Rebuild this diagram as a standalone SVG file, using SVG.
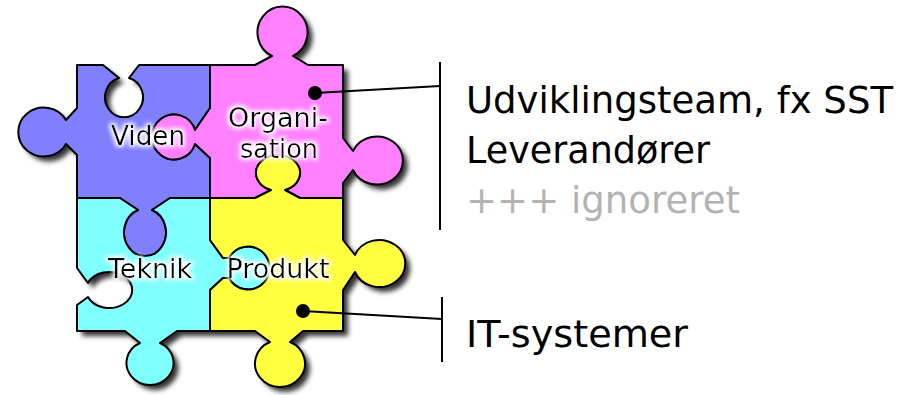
<svg xmlns="http://www.w3.org/2000/svg" xmlns:xlink="http://www.w3.org/1999/xlink" width="908" height="395" viewBox="0 0 908 395">
<style>
.piece{stroke:#000;stroke-width:2;stroke-linejoin:round}
.lbl{font-family:"DejaVu Sans","Verdana",sans-serif;font-size:26px;fill:#000;text-anchor:middle}
.txt{font-family:"DejaVu Sans","Verdana",sans-serif;font-size:38px;fill:#000}
.conn{stroke:#000;stroke-width:2;fill:none}
</style>
<defs>
<filter id="shadow" x="-10%" y="-10%" width="130%" height="130%">
<feGaussianBlur in="SourceAlpha" stdDeviation="2.5" result="b"/>
<feOffset in="b" dx="5" dy="5" result="o"/>
<feFlood flood-color="#000" flood-opacity="0.8"/>
<feComposite in2="o" operator="in"/>
</filter>
<filter id="glow" x="-20%" y="-30%" width="140%" height="160%">
<feMorphology in="SourceAlpha" operator="dilate" radius="1.8" result="d"/>
<feGaussianBlur in="d" stdDeviation="2" result="b"/>
<feFlood flood-color="#fff" flood-opacity="1"/>
<feComposite in2="b" operator="in" result="g"/>
<feMerge><feMergeNode in="g"/><feMergeNode in="SourceGraphic"/></feMerge>
</filter>
<path id="p-viden" d="M77,65 L103,65 L119,78 A19,20 0 1 0 129,78 L139,65 L210,65 L210,108 L195,130 A22,22.5 0 1 0 195,144 L210,158 L210,198 L170,198 L152,210 A21,23.7 0 1 1 138,210 L120,198 L77,198 L77,155 L66,144 A25.5,24.5 0 1 1 66,120 L77,108 Z"/>
<path id="p-org" d="M210,65 L255,65 L272,56 A25,26 0 1 1 293,56 L308,65 L343,65 L343,138 L353,151 A26,24 0 1 1 353,170 L343,183 L343,198 L300,198 L285,190 A22,18 0 1 0 271,190 L255,198 L210,198 L210,158 L195,144 A22,22.5 0 1 1 195,130 L210,108 Z"/>
<path id="p-tek" d="M77,198 L120,198 L138,210 A21,23.7 0 1 0 152,210 L170,198 L210,198 L210,240 L223,258 L229,258 A21.5,21.5 0 1 1 229,278 L223,278 L210,290 L210,331 L177,331 L160,343 A23.5,22 0 1 1 140,343 L125,331 L77,331 L77,305 L88,297 A23,18 0 1 0 88,283 L77,268 Z"/>
<path id="p-prod" d="M210,198 L255,198 L271,190 A22,18 0 1 1 285,190 L300,198 L343,198 L343,240 L355,255 A26,23.5 0 1 1 355,272 L343,290 L343,331 L303,331 L290,342 A25,23.5 0 1 1 270,342 L255,331 L210,331 L210,290 L223,278 L229,278 A21.5,21.5 0 1 0 229,258 L223,258 L210,240 Z"/>
</defs>
<g id="puzzle-shadow" filter="url(#shadow)">
<use xlink:href="#p-viden"/><use xlink:href="#p-org"/><use xlink:href="#p-tek"/><use xlink:href="#p-prod"/>
</g>
<g id="pieces">
<g id="viden"><use xlink:href="#p-viden" class="piece" fill="#8080ff"/></g>
<g id="organisation"><use xlink:href="#p-org" class="piece" fill="#ff80ff"/></g>
<g id="teknik"><use xlink:href="#p-tek" class="piece" fill="#80ffff"/></g>
<g id="produkt"><use xlink:href="#p-prod" class="piece" fill="#ffff40"/></g>
</g>
<g id="piece-labels" filter="url(#glow)">
<text class="lbl" x="148" y="145" textLength="74" lengthAdjust="spacingAndGlyphs">Viden</text>
<text class="lbl" x="278" y="127" textLength="100" lengthAdjust="spacingAndGlyphs">Organi-</text>
<text class="lbl" x="279" y="158" textLength="78" lengthAdjust="spacingAndGlyphs">sation</text>
<text class="lbl" x="150" y="278" textLength="84" lengthAdjust="spacingAndGlyphs">Teknik</text>
<text class="lbl" x="278" y="278" textLength="103" lengthAdjust="spacingAndGlyphs">Produkt</text>
</g>
<g id="connectors">
<circle cx="315" cy="93" r="7" fill="#000"/>
<line class="conn" x1="315" y1="93" x2="440" y2="86"/>
<line class="conn" x1="440" y1="62" x2="440" y2="230"/>
<circle cx="303" cy="311" r="7" fill="#000"/>
<line class="conn" x1="303" y1="311" x2="442" y2="319"/>
<line class="conn" x1="442" y1="297" x2="442" y2="362"/>
</g>
<g id="label-organisation">
<text class="txt" x="466" y="113" textLength="427" lengthAdjust="spacingAndGlyphs">Udviklingsteam, fx SST</text>
<text class="txt" x="466" y="163" textLength="244" lengthAdjust="spacingAndGlyphs">Leverandører</text>
<text class="txt" x="466" y="213" textLength="274" lengthAdjust="spacingAndGlyphs" style="fill:#b3b3b3">+++ ignoreret</text>
</g>
<g id="label-produkt">
<text class="txt" x="466" y="347" textLength="222" lengthAdjust="spacingAndGlyphs">IT-systemer</text>
</g>
</svg>
